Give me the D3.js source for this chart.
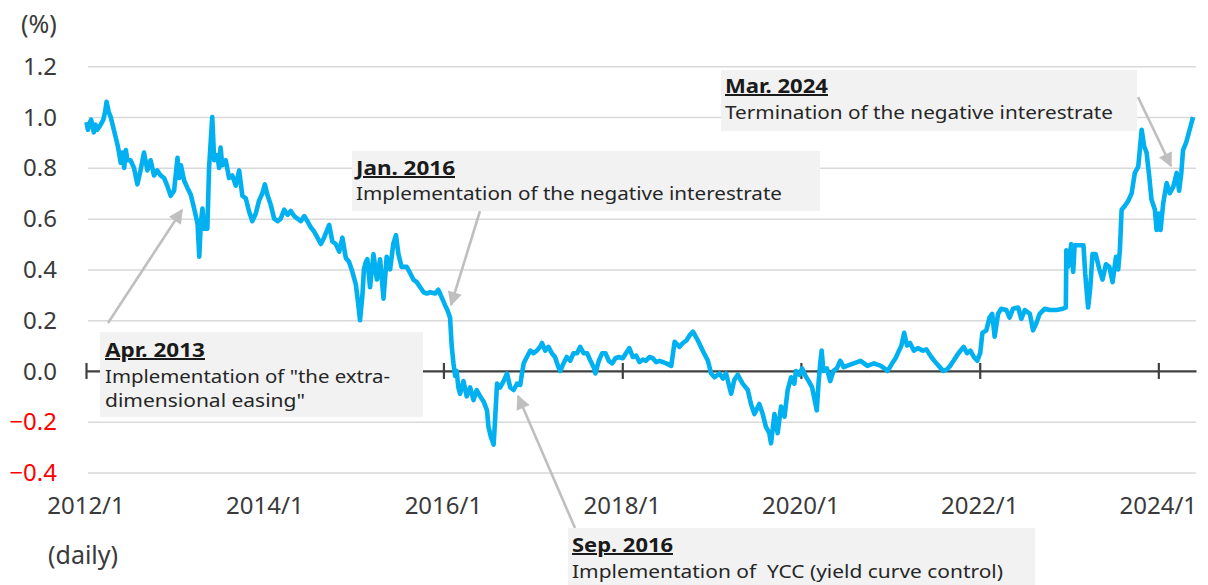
<!DOCTYPE html>
<html><head><meta charset="utf-8">
<script src="https://cdn.jsdelivr.net/npm/d3@7"></script>
<style>
body{margin:0;background:#fff}
svg{display:block}
text{font-family:"Noto Sans",sans-serif}
</style>
</head><body>
<svg id="chart" width="1208" height="585"></svg>
<script>
// ---------- data (10-year JGB yield, %, daily) ----------
const dates = [
"2012-01-03","2012-01-09","2012-01-13","2012-01-22","2012-02-02","2012-02-09","2012-02-16","2012-03-01","2012-03-12","2012-03-19","2012-03-25","2012-04-03","2012-04-11","2012-04-25","2012-05-09","2012-05-15","2012-05-22","2012-05-29","2012-06-05","2012-06-12","2012-06-18","2012-07-01","2012-07-15","2012-07-29","2012-08-11","2012-08-25","2012-09-08","2012-09-21","2012-10-05","2012-10-18","2012-11-01","2012-11-15","2012-11-28","2012-12-12","2012-12-26",
"2013-01-09","2013-01-16","2013-01-23","2013-02-05","2013-02-19","2013-03-04","2013-03-18","2013-04-01","2013-04-08","2013-04-14","2013-04-21","2013-04-28","2013-05-11","2013-05-18","2013-05-31","2013-06-08","2013-06-21","2013-06-28","2013-07-04","2013-07-11","2013-07-25","2013-08-08","2013-08-21","2013-09-04","2013-09-18","2013-10-01","2013-10-15","2013-10-28","2013-11-11","2013-11-25","2013-12-08","2013-12-22",
"2014-01-01","2014-01-11","2014-01-25","2014-02-08","2014-02-22","2014-03-07","2014-03-21","2014-04-04","2014-04-17","2014-05-01","2014-05-14","2014-05-28","2014-06-11","2014-06-24","2014-07-08","2014-07-21","2014-08-04","2014-08-18","2014-08-31","2014-09-21","2014-10-04","2014-10-18","2014-11-01","2014-11-14","2014-11-28","2014-12-11","2014-12-25",
"2015-01-08","2015-01-17","2015-01-25","2015-02-04","2015-02-10","2015-02-18","2015-02-24","2015-03-07","2015-03-21","2015-04-04","2015-04-17","2015-05-01","2015-05-14","2015-05-28","2015-06-10","2015-06-21","2015-07-01","2015-07-14","2015-08-04","2015-08-18","2015-08-31","2015-09-14","2015-09-28","2015-10-12","2015-10-25","2015-11-07","2015-11-28","2015-12-11","2015-12-25",
"2016-01-07","2016-01-17","2016-01-28","2016-02-04","2016-02-11","2016-02-18","2016-02-24","2016-03-02","2016-03-09","2016-03-23","2016-04-05","2016-04-19","2016-05-03","2016-05-16","2016-05-30","2016-06-13","2016-06-27","2016-07-03","2016-07-13","2016-07-24","2016-07-30","2016-08-07","2016-08-20","2016-09-03","2016-09-17","2016-09-30","2016-10-14","2016-10-28","2016-11-10","2016-11-17","2016-11-24","2016-12-07","2016-12-21",
"2017-01-03","2017-01-17","2017-01-30","2017-02-07","2017-02-20","2017-03-05","2017-03-19","2017-04-01","2017-04-15","2017-04-22","2017-05-06","2017-05-19","2017-06-02","2017-06-16","2017-06-30","2017-07-13","2017-07-27","2017-08-10","2017-08-24","2017-09-06","2017-09-13","2017-09-27","2017-10-11","2017-10-24","2017-11-07","2017-11-21","2017-12-04","2017-12-18",
"2018-01-03","2018-01-16","2018-01-30","2018-02-13","2018-02-27","2018-03-12","2018-03-26","2018-04-08","2018-04-22","2018-05-06","2018-05-19","2018-06-02","2018-06-16","2018-06-30","2018-07-20","2018-08-03","2018-08-23","2018-09-06","2018-09-20","2018-10-03","2018-10-17","2018-11-06","2018-11-26","2018-12-17","2018-12-30",
"2019-01-13","2019-02-02","2019-02-16","2019-03-01","2019-03-22","2019-04-04","2019-04-18","2019-05-08","2019-05-29","2019-06-11","2019-06-25","2019-07-15","2019-07-29","2019-08-11","2019-08-25","2019-09-01","2019-09-15","2019-09-28","2019-10-12","2019-10-26","2019-11-08","2019-11-22","2019-12-05","2019-12-12","2019-12-26",
"2020-01-06","2020-01-20","2020-02-02","2020-02-16","2020-03-06","2020-03-13","2020-03-20","2020-03-26","2020-04-02","2020-04-16","2020-04-30","2020-05-13","2020-05-27","2020-06-10","2020-06-24","2020-07-07","2020-08-04","2020-09-01","2020-09-29","2020-10-26","2020-11-23","2020-12-21",
"2021-01-08","2021-01-22","2021-02-05","2021-02-15","2021-02-26","2021-03-10","2021-03-22","2021-04-07","2021-04-23","2021-05-14","2021-05-28","2021-06-17","2021-07-08","2021-07-22","2021-08-05","2021-08-19","2021-09-02","2021-09-16","2021-10-06","2021-10-27","2021-11-10","2021-11-24","2021-12-08","2021-12-22",
"2022-01-03","2022-01-12","2022-01-28","2022-02-10","2022-02-21","2022-03-03","2022-03-17","2022-03-30","2022-04-20","2022-05-03","2022-05-17","2022-06-07","2022-06-20","2022-07-04","2022-07-25","2022-08-07","2022-08-21","2022-09-03","2022-09-24","2022-10-14","2022-11-10","2022-12-07","2022-12-19","2022-12-21","2022-12-28",
"2023-01-04","2023-01-10","2023-01-18","2023-01-24","2023-02-07","2023-02-21","2023-03-01","2023-03-08","2023-03-20","2023-03-29","2023-04-07","2023-04-20","2023-05-05","2023-05-18","2023-06-01","2023-06-15","2023-06-28","2023-07-12","2023-07-21","2023-07-28","2023-08-04","2023-08-17","2023-08-31","2023-09-14","2023-09-27","2023-10-11","2023-10-25","2023-11-04","2023-11-14","2023-11-25","2023-12-04","2023-12-18","2023-12-25",
"2024-01-03","2024-01-10","2024-01-21","2024-02-04","2024-02-17","2024-03-02","2024-03-16","2024-03-26","2024-04-04","2024-04-11","2024-04-24","2024-05-08","2024-05-22"
];
const yields = [
0.98,0.95,0.97,0.99,0.94,0.97,0.95,0.97,0.99,1.02,1.06,1.02,1.00,0.945,0.89,0.86,0.82,0.86,0.80,0.87,0.83,0.83,0.80,0.735,0.79,0.86,0.79,0.83,0.77,0.79,0.77,0.76,0.73,0.69,0.71,
0.84,0.76,0.81,0.75,0.72,0.695,0.64,0.58,0.45,0.58,0.64,0.56,0.56,0.80,1.00,0.83,0.85,0.80,0.88,0.81,0.83,0.76,0.77,0.73,0.79,0.69,0.68,0.63,0.59,0.62,0.67,0.70,
0.735,0.695,0.655,0.60,0.59,0.60,0.635,0.615,0.63,0.61,0.60,0.59,0.61,0.59,0.565,0.55,0.525,0.50,0.525,0.575,0.51,0.50,0.47,0.525,0.445,0.43,0.39,
0.34,0.27,0.20,0.30,0.40,0.43,0.44,0.33,0.46,0.36,0.44,0.285,0.45,0.40,0.50,0.535,0.46,0.41,0.41,0.385,0.36,0.35,0.33,0.31,0.305,0.31,0.305,0.32,0.29,
0.26,0.24,0.21,0.095,0.03,-0.02,0.0,-0.065,-0.09,-0.04,-0.10,-0.065,-0.115,-0.075,-0.10,-0.12,-0.155,-0.22,-0.26,-0.29,-0.195,-0.05,-0.065,-0.04,-0.01,-0.065,-0.075,-0.05,-0.055,-0.01,0.03,0.055,0.08,
0.07,0.08,0.095,0.11,0.08,0.095,0.07,0.055,0.015,0.0,0.03,0.055,0.04,0.07,0.07,0.095,0.07,0.07,0.04,0.015,-0.01,0.04,0.07,0.07,0.04,0.03,0.05,0.055,
0.05,0.07,0.09,0.055,0.06,0.035,0.045,0.04,0.055,0.05,0.035,0.04,0.035,0.03,0.02,0.115,0.095,0.11,0.12,0.14,0.155,0.12,0.08,0.04,-0.01,
-0.025,-0.01,-0.03,-0.01,-0.09,-0.035,-0.015,-0.05,-0.075,-0.13,-0.17,-0.13,-0.17,-0.22,-0.245,-0.285,-0.17,-0.245,-0.14,-0.18,-0.075,-0.025,-0.05,0.0,-0.015,
0.01,-0.02,-0.04,-0.065,-0.155,-0.05,0.03,0.08,0.0,0.01,-0.04,0.0,0.01,0.04,0.015,0.02,0.03,0.04,0.02,0.03,0.02,0.0,
0.03,0.05,0.08,0.10,0.15,0.10,0.11,0.08,0.09,0.08,0.085,0.055,0.03,0.015,0.0,0.005,0.02,0.04,0.07,0.095,0.07,0.08,0.055,0.04,
0.07,0.15,0.16,0.21,0.225,0.135,0.225,0.245,0.24,0.21,0.245,0.25,0.205,0.24,0.225,0.16,0.19,0.225,0.245,0.24,0.24,0.245,0.25,0.475,0.41,
0.45,0.50,0.39,0.495,0.495,0.495,0.495,0.385,0.25,0.33,0.46,0.46,0.40,0.36,0.42,0.41,0.35,0.45,0.40,0.48,0.635,0.65,0.67,0.70,0.78,0.805,0.95,0.885,0.86,0.765,0.675,0.635,0.555,
0.62,0.555,0.66,0.74,0.70,0.725,0.78,0.71,0.78,0.87,0.90,0.95,1.0
];
const yTicks = [-0.4,-0.2,0.0,0.2,0.4,0.6,0.8,1.0,1.2];
const xTickDates = ["2012-01-01","2014-01-01","2016-01-01","2018-01-01","2020-01-01","2022-01-01","2024-01-01"];
const xTickLabels = ["2012/1","2014/1","2016/1","2018/1","2020/1","2022/1","2024/1"];
const annTitles = ["Apr. 2013","Jan. 2016","Sep. 2016","Mar. 2024"];
const annTexts = [["Implementation of \"the extra-","dimensional easing\""],["Implementation of the negative interestrate"],["Implementation of  YCC (yield curve control)"],["Termination of the negative interestrate"]];

// ---------- layout ----------
const svg = d3.select("#chart");
const parse = d3.timeParse("%Y-%m-%d");
const data = dates.map((d,i)=>({date:parse(d), v:yields[i]}));
const x = d3.scaleTime().domain([parse("2012-01-01"), parse("2024-06-03")]).range([86,1196]);
const y = d3.scaleLinear().domain([-0.4,1.2]).range([472.5,66.3]);
const txtCol = "#3a3a3a";

// gridlines
const grid = svg.append("g").attr("transform","translate(88,0)")
  .call(d3.axisLeft(y).tickValues(yTicks.filter(v=>v!==0)).tickSize(-1108).tickFormat(""));
grid.select(".domain").remove();
grid.selectAll("line").attr("stroke","#D9D9D9").attr("stroke-width",1.5);

// y labels
svg.append("g").selectAll("text").data(yTicks).join("text")
  .attr("x",57).attr("y",d=>y(d)).attr("dy","0.36em").attr("text-anchor","end")
  .attr("font-size",24).attr("fill",d=>d<0?"#FF0000":txtCol)
  .text(d=>d3.format(".1f")(d));
svg.append("text").attr("x",21).attr("y",33).attr("font-size",25).attr("fill",txtCol).text("(%)");

// zero axis with crossing ticks
const y0 = y(0);
const xAxis = svg.append("g").attr("transform",`translate(0,${y0})`)
  .call(d3.axisBottom(x).tickValues(xTickDates.map(parse)).tickSize(8).tickSizeOuter(0).tickFormat(""));
xAxis.select(".domain").attr("stroke","#404040").attr("stroke-width",2.2);
xAxis.selectAll(".tick line").attr("y1",-8).attr("y2",8).attr("stroke","#404040").attr("stroke-width",2.2);

// x labels at bottom
svg.append("g").selectAll("text").data(xTickDates).join("text")
  .attr("x",d=>x(parse(d))).attr("y",514).attr("text-anchor","middle")
  .attr("font-size",24).attr("fill",txtCol).text((d,i)=>xTickLabels[i]);
svg.append("text").attr("x",48).attr("y",564).attr("font-size",25).attr("fill",txtCol).text("(daily)");

// line
svg.append("path").datum(data)
  .attr("fill","none").attr("stroke","#00B0F0").attr("stroke-width",4.6)
  .attr("stroke-linejoin","round")
  .attr("d",d3.line().x(d=>x(d.date)).y(d=>y(d.v)));

// annotations
const defs = svg.append("defs");
defs.append("marker").attr("id","ah").attr("viewBox","0 0 10 10").attr("refX",9).attr("refY",5)
  .attr("markerWidth",6).attr("markerHeight",5.5).attr("orient","auto")
  .append("path").attr("d","M0,0 L10,5 L0,10 z").attr("fill","#BFBFBF");

const boxes = [
  {x:100,y:332,w:323,h:85, tx:105, ty:[357,383,407], tw:[100,285,200]},
  {x:352,y:151,w:468,h:60, tx:356, ty:[175,200], tw:[99,426]},
  {x:568,y:528,w:467,h:60, tx:572, ty:[552,578], tw:[101,431]},
  {x:721,y:70,w:416,h:61, tx:725, ty:[93,119], tw:[103,388]}
];
const arrows = [[108,323,182,210],[480,211,451,305],[575,528,518,396],[1138,97,1171,166]];

arrows.forEach(a=>{
  svg.append("line").attr("x1",a[0]).attr("y1",a[1]).attr("x2",a[2]).attr("y2",a[3])
    .attr("stroke","#BFBFBF").attr("stroke-width",2.6).attr("marker-end","url(#ah)");
});
boxes.forEach((b,i)=>{
  const g = svg.append("g");
  g.append("rect").attr("x",b.x).attr("y",b.y).attr("width",b.w).attr("height",b.h).attr("fill","#F2F2F2");
  g.append("text").attr("x",b.tx).attr("y",b.ty[0]).attr("font-size",20).attr("font-weight","bold")
    .attr("fill","#1a1a1a").attr("text-decoration","underline")
    .attr("textLength",b.tw[0]).attr("lengthAdjust","spacingAndGlyphs").text(annTitles[i]);
  annTexts[i].forEach((t,j)=>{
    g.append("text").attr("x",b.tx).attr("y",b.ty[j+1]).attr("font-size",18).attr("fill","#262626")
      .attr("textLength",b.tw[j+1]).attr("lengthAdjust","spacingAndGlyphs").attr("xml:space","preserve").text(t);
  });
});
</script>
</body></html>
